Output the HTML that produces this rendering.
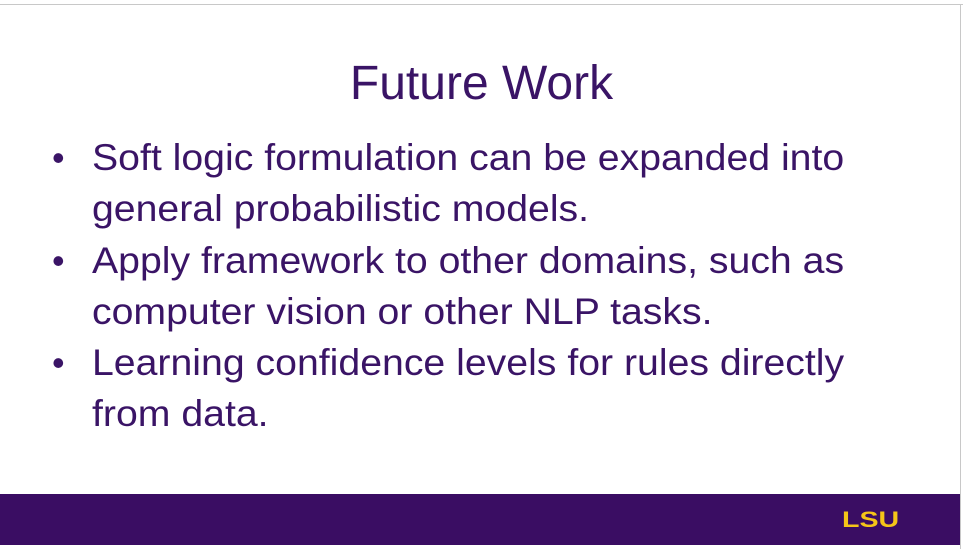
<!DOCTYPE html>
<html><head><meta charset="utf-8"><style>
body{margin:0;width:963px;height:549px;background:#fff;position:relative;overflow:hidden;font-family:"Liberation Sans",sans-serif;color:#3a1466}
.top{position:absolute;left:0;top:4px;width:963px;height:1px;background:#c8c8c8}
.right{position:absolute;left:960px;top:4px;width:1px;height:545px;background:#c8c8c8}
.bar{position:absolute;left:0;top:494px;width:960px;height:51px;background:#3a0d63}
.lsu{position:absolute;left:842px;top:507px;font-weight:bold;font-size:22px;color:#f5c518;transform:scaleX(1.3);transform-origin:left}
h1{position:absolute;left:0;width:963px;top:56px;margin:0;text-align:center;font-weight:normal;font-size:48px}
.l{position:absolute;left:92px;font-size:37px;white-space:nowrap;transform:scaleX(1.06);transform-origin:left}
.b{position:absolute;left:52px;font-size:36px}
</style></head><body>
<div class="top"></div><div class="right"></div>
<h1>Future Work</h1>
<div class="b" style="top:137px">•</div>
<div class="l" style="top:137px">Soft logic formulation can be expanded into</div>
<div class="l" style="top:188px">general probabilistic models.</div>
<div class="b" style="top:240px">•</div>
<div class="l" style="top:240px">Apply framework to other domains, such as</div>
<div class="l" style="top:291px">computer vision or other NLP tasks.</div>
<div class="b" style="top:342px">•</div>
<div class="l" style="top:342px">Learning confidence levels for rules directly</div>
<div class="l" style="top:393px">from data.</div>
<div class="bar"></div>
<div class="lsu">LSU</div>
</body></html>
